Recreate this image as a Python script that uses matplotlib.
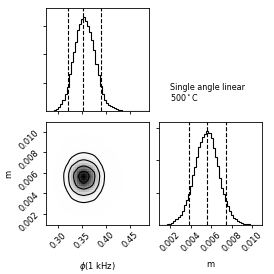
import numpy as np
import matplotlib
matplotlib.use("Agg")
import matplotlib.pyplot as plt
from matplotlib.colors import LinearSegmentedColormap

# ranges
phi_range = (0.2744, 0.4890)
m_range = (0.00093, 0.01094)

# histogram counts, 50 bins each
phi_counts = [0, 0, 3, 10, 26, 66, 149, 264, 396, 594,
              858, 1287, 1716, 2079, 2442, 2838, 3069, 3234, 3300, 3168,
              3003, 2772, 2508, 2145, 1650, 1254, 891, 594, 396, 281,
              215, 165, 125, 89, 63, 40, 26, 17, 10, 7,
              3, 0, 0, 0, 0, 0, 0, 0, 0, 0]
m_counts = [0, 0, 3, 9, 20, 40, 72, 116, 173, 246,
            318, 434, 607, 780, 954, 1214, 1532, 1792, 2110, 2399,
            2572, 2717, 2803, 2890, 2832, 2688, 2370, 2110, 1821, 1445,
            1156, 954, 751, 578, 434, 318, 231, 173, 130, 95,
            69, 46, 32, 20, 12, 6, 3, 0, 0, 0]

phi_quantiles = [0.321, 0.352, 0.389]
m_quantiles = [0.00387, 0.00563, 0.00741]

phi_ticks = [0.30, 0.35, 0.40, 0.45]
m_ticks = [0.002, 0.004, 0.006, 0.008, 0.010]
count_ticks = [1000, 2000, 3000]

label_text = "Single angle linear\n500$^\\circ$C"

FS = 6
plt.rcParams["font.size"] = FS

phi_edges = np.linspace(phi_range[0], phi_range[1], len(phi_counts) + 1)
m_edges = np.linspace(m_range[0], m_range[1], len(m_counts) + 1)

fig = plt.figure(figsize=(2.74, 2.74), dpi=100)
lx, rx = 46 / 274, 159 / 274
w = 103 / 274
ty, by = 1 - 111 / 274, 1 - 225 / 274

ax_top = fig.add_axes([lx, ty, w, w])
ax_2d = fig.add_axes([lx, by, w, w])
ax_m = fig.add_axes([rx, by, w, w])
ax_txt = fig.add_axes([rx, ty, w, w])
ax_txt.axis("off")


def style(ax):
    ax.tick_params(length=2.5, width=0.6, labelsize=FS, pad=1.5)
    for s in ax.spines.values():
        s.set_linewidth(0.6)


# 1d histograms
for ax, counts, edges, qs, rng in [(ax_top, phi_counts, phi_edges, phi_quantiles, phi_range),
                                   (ax_m, m_counts, m_edges, m_quantiles, m_range)]:
    ax.stairs(counts, edges, color="k", lw=0.8)
    for q in qs:
        ax.axvline(q, ls="--", color="k", lw=0.8)
    ax.set_xlim(rng)
    ax.set_ylim(0, 1.1 * max(counts))
    ax.set_yticks(count_ticks)
    ax.set_yticklabels([])
    style(ax)

ax_top.set_xticks(phi_ticks)
ax_top.set_xticklabels([])
ax_m.set_xticks(m_ticks)
ax_m.set_xticklabels([f"{t:.3f}" for t in m_ticks], rotation=45)
ax_m.set_xlabel("m")
ax_m.xaxis.set_label_coords(0.5, -0.34)

# 2d density from the marginals
H = np.outer(np.array(m_counts, float), np.array(phi_counts, float))
levels = 1.0 - np.exp(-0.5 * np.arange(0.5, 2.1, 0.5) ** 2)
Hflat = np.sort(H.flatten())[::-1]
sm = np.cumsum(Hflat)
sm /= sm[-1]
V = np.array([Hflat[sm <= v][-1] for v in levels])
V.sort()

density_cmap = LinearSegmentedColormap.from_list("density_cmap", ["k", (1, 1, 1, 0)])
ax_2d.pcolormesh(phi_edges, m_edges, H.max() - H, cmap=density_cmap, shading="flat")
pc = 0.5 * (phi_edges[1:] + phi_edges[:-1])
mc = 0.5 * (m_edges[1:] + m_edges[:-1])
ax_2d.contour(pc, mc, H, V, colors="k", linewidths=0.8)
ax_2d.set_xlim(phi_range)
ax_2d.set_ylim(m_range)
ax_2d.set_xticks(phi_ticks)
ax_2d.set_xticklabels([f"{t:.2f}" for t in phi_ticks], rotation=45)
ax_2d.set_yticks(m_ticks)
ax_2d.set_yticklabels([f"{t:.3f}" for t in m_ticks], rotation=45)
ax_2d.set_xlabel(r"$\phi$(1 kHz)")
ax_2d.set_ylabel("m")
ax_2d.xaxis.set_label_coords(0.5, -0.34)
ax_2d.yaxis.set_label_coords(-0.32, 0.5)
style(ax_2d)

ax_txt.text(0.11, 0.08, label_text, transform=ax_txt.transAxes, fontsize=5.8,
            ha="left", va="bottom", linespacing=1.0)

fig.savefig("out.png", dpi=100)
